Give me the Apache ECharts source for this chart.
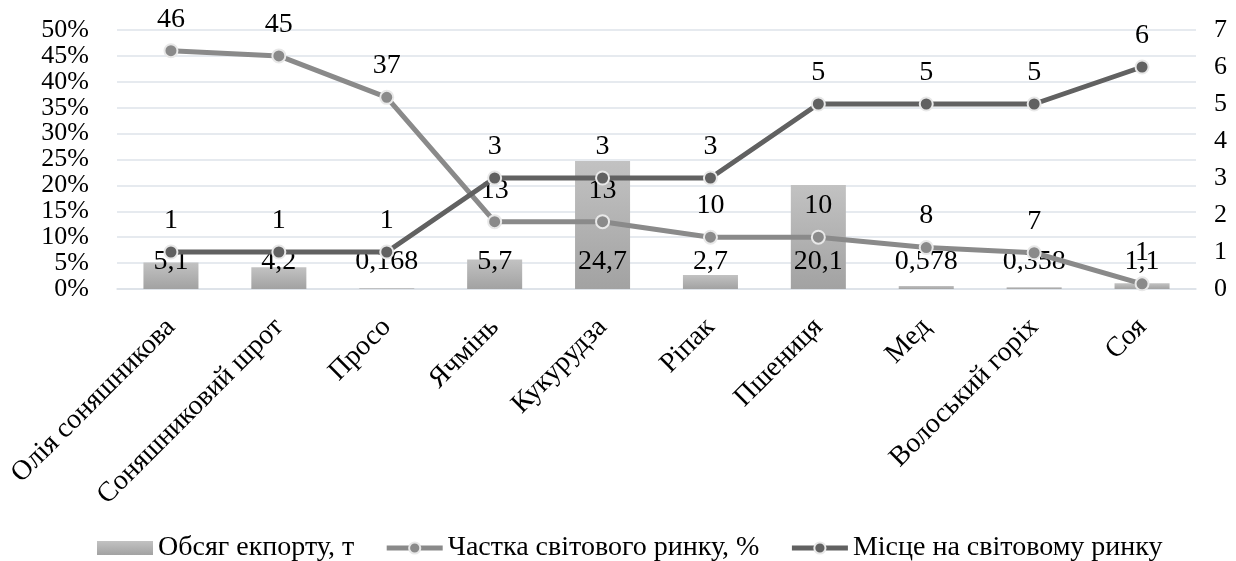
<!DOCTYPE html>
<html>
<head>
<meta charset="utf-8">
<script src="https://cdn.jsdelivr.net/npm/echarts@6/dist/echarts.min.js"></script>
<style>
  html, body { margin: 0; padding: 0; background: #ffffff; }
  #chart { width: 1236px; height: 561px; }
</style>
</head>
<body>
<div id="chart"></div>
<script>
const categories = ['Олія соняшникова', 'Соняшниковий шрот', 'Просо', 'Ячмінь', 'Кукурудза', 'Ріпак', 'Пшениця', 'Мед', 'Волоський горіх', 'Соя'];
const exportVolume = [5.1, 4.2, 0.168, 5.7, 24.7, 2.7, 20.1, 0.578, 0.358, 1.1];
const marketShare = [46, 45, 37, 13, 13, 10, 10, 8, 7, 1];
const marketPlace = [1, 1, 1, 3, 3, 3, 5, 5, 5, 6];
const leftTicks = { min: 0, max: 50, interval: 5 };
const rightTicks = { min: 0, max: 7, interval: 1 };
const seriesNames = ['Обсяг екпорту, т', 'Частка світового ринку, %', 'Місце на світовому ринку'];

const FONT = "'Liberation Serif', 'Times New Roman', serif";
const fmt = v => String(v).replace('.', ',');

const SHARE_COLOR = '#8a8a8a';
const PLACE_COLOR = '#616161';
const BORDER = '#e8e8e8';

const chart = echarts.init(document.getElementById('chart'), null, { renderer: 'canvas' });
chart.setOption({
  animation: false,
  textStyle: { fontFamily: FONT, color: '#000' },
  grid: { left: 117, right: 40, top: 30, bottom: 272, containLabel: false },
  legend: {
    bottom: -6,
    left: 92,
    itemGap: 30,
    itemWidth: 56,
    itemHeight: 14,
    textStyle: { fontFamily: FONT, fontSize: 28, color: '#000' },
    data: [
      { name: seriesNames[0], icon: 'rect' },
      { name: seriesNames[1], lineStyle: { width: 5, color: SHARE_COLOR }, itemStyle: { color: SHARE_COLOR, borderColor: BORDER, borderWidth: 2 } },
      { name: seriesNames[2], lineStyle: { width: 5, color: PLACE_COLOR }, itemStyle: { color: PLACE_COLOR, borderColor: BORDER, borderWidth: 2 } }
    ]
  },
  xAxis: {
    type: 'category',
    data: categories,
    axisLine: { lineStyle: { color: '#dce1e8', width: 1.5 } },
    axisTick: { show: false },
    axisLabel: {
      rotate: 45,
      interval: 0,
      margin: 34,
      fontFamily: FONT,
      fontSize: 28,
      color: '#000'
    }
  },
  yAxis: [
    {
      type: 'value',
      min: leftTicks.min, max: leftTicks.max, interval: leftTicks.interval,
      axisLine: { show: false },
      axisTick: { show: false },
      splitLine: { lineStyle: { color: '#dee3ea', width: 1.5 } },
      axisLabel: { formatter: v => v + '%', margin: 28, fontFamily: FONT, fontSize: 26, color: '#000' }
    },
    {
      type: 'value',
      min: rightTicks.min, max: rightTicks.max, interval: rightTicks.interval,
      axisLine: { show: false },
      axisTick: { show: false },
      splitLine: { show: false },
      axisLabel: { margin: 18, fontFamily: FONT, fontSize: 26, color: '#000' }
    }
  ],
  series: [
    {
      name: seriesNames[0],
      type: 'bar',
      yAxisIndex: 0,
      data: exportVolume,
      barWidth: '51%',
      itemStyle: {
        color: new echarts.graphic.LinearGradient(0, 0, 0, 1, [
          { offset: 0, color: '#c2c2c2' },
          { offset: 1, color: '#a2a2a2' }
        ])
      },
      label: {
        show: true,
        position: 'insideBottom',
        distance: 13,
        formatter: p => fmt(p.value),
        fontFamily: FONT,
        fontSize: 28,
        color: '#000'
      },
      z: 1
    },
    {
      name: seriesNames[1],
      type: 'line',
      yAxisIndex: 0,
      data: marketShare,
      symbol: 'circle',
      symbolSize: 13,
      lineStyle: { color: SHARE_COLOR, width: 5 },
      itemStyle: { color: SHARE_COLOR, borderColor: BORDER, borderWidth: 2 },
      label: {
        show: true,
        position: 'top',
        distance: 10,
        formatter: p => fmt(p.value),
        fontFamily: FONT,
        fontSize: 28,
        color: '#000'
      },
      z: 3
    },
    {
      name: seriesNames[2],
      type: 'line',
      yAxisIndex: 1,
      data: marketPlace,
      symbol: 'circle',
      symbolSize: 13,
      lineStyle: { color: PLACE_COLOR, width: 5 },
      itemStyle: { color: PLACE_COLOR, borderColor: BORDER, borderWidth: 2 },
      label: {
        show: true,
        position: 'top',
        distance: 10,
        formatter: p => fmt(p.value),
        fontFamily: FONT,
        fontSize: 28,
        color: '#000'
      },
      z: 4
    }
  ]
});
</script>
</body>
</html>
